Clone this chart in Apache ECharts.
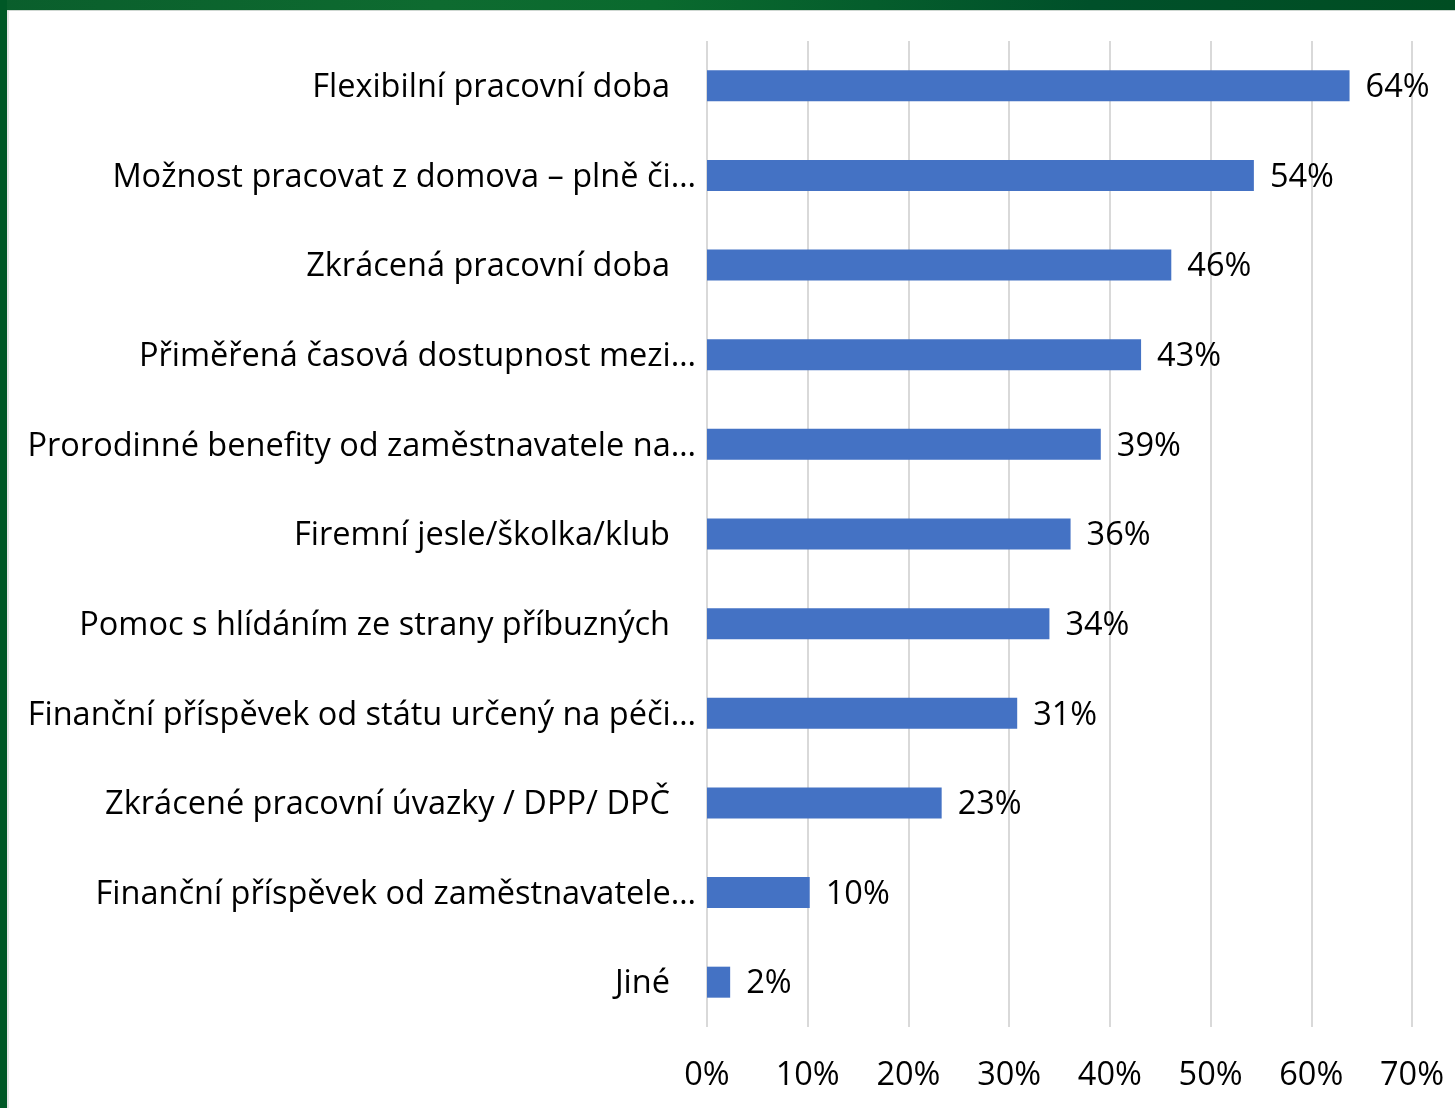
<!DOCTYPE html>
<html><head><meta charset="utf-8">
<script src="https://cdn.jsdelivr.net/npm/echarts@6/dist/echarts.min.js"></script>
<style>
html,body{margin:0;padding:0;background:#fff;}
#wrap{position:relative;width:1455px;height:1108px;overflow:hidden;background:#fff;}
#chart{position:absolute;left:0;top:0;width:1455px;height:1108px;}
.bt{position:absolute;left:0;top:0;width:1455px;height:10px;background:linear-gradient(90deg,#0a5e2c 0%,#0e6b30 30%,#0a6a2e 45%,#00502a 75%,#004d22 100%);}
.bl{position:absolute;left:0;top:0;width:7px;height:1108px;background:#005826;}
.bl2{position:absolute;left:7px;top:10px;width:2px;height:1098px;background:#e6e6e6;}
.bt2{position:absolute;left:7px;top:10px;width:1448px;height:1px;background:#cfd8d2;}
</style></head>
<body>
<div id="wrap">
<div id="chart"></div>
<div class="bt"></div><div class="bl"></div><div class="bl2"></div><div class="bt2"></div>
</div>
<script>
const categories = [
  "Flexibilní pracovní doba",
  "Možnost pracovat z domova – plně či…",
  "Zkrácená pracovní doba",
  "Přiměřená časová dostupnost mezi…",
  "Prorodinné benefity od zaměstnavatele na…",
  "Firemní jesle/školka/klub",
  "Pomoc s hlídáním ze strany příbuzných",
  "Finanční příspěvek od státu určený na péči…",
  "Zkrácené pracovní úvazky / DPP/ DPČ",
  "Finanční příspěvek od zaměstnavatele…",
  "Jiné"
];
const values = [63.8, 54.3, 46.1, 43.1, 39.1, 36.1, 34.0, 30.8, 23.3, 10.2, 2.3];
const xTicks = [0, 10, 20, 30, 40, 50, 60, 70];

const FONT = '"Open Sans"';
const FS = 32.5;
const chart = echarts.init(document.getElementById('chart'), null, {renderer:'canvas'});
chart.setOption({
  animation:false,
  backgroundColor:'transparent',
  grid:{left:707, right:43, top:41, bottom:81, containLabel:false},
  xAxis:{
    type:'value', min:xTicks[0], max:xTicks[xTicks.length-1], interval:10,
    axisLine:{show:false}, axisTick:{show:false},
    splitLine:{show:true, lineStyle:{color:'#d9d9d9', width:2}},
    axisLabel:{formatter:'{value}%', color:'#000', fontFamily:FONT, fontSize:FS, margin:32}
  },
  yAxis:{
    type:'category', inverse:true, data:categories,
    axisLine:{show:false}, axisTick:{show:false}, splitLine:{show:false},
    axisLabel:{
      color:'#000', fontFamily:FONT, fontSize:FS, margin:11,
      formatter:v => v.endsWith('…') ? '{e|' + v + '}' : '{p|' + v + '}',
      rich:{
        e:{color:'#000', fontFamily:FONT, fontSize:FS, padding:[4,0,0,0]},
        p:{color:'#000', fontFamily:FONT, fontSize:FS, padding:[4,26,0,0]}
      }
    }
  },
  series:[{
    type:'bar', data:values, barWidth:31,
    itemStyle:{color:'#4472c4'},
    label:{show:true, position:'right', distance:16, color:'#000', fontFamily:FONT, fontSize:FS,
      offset:[0,2], formatter:p => Math.round(p.value) + '%'}
  }]
});
</script>
</body></html>
